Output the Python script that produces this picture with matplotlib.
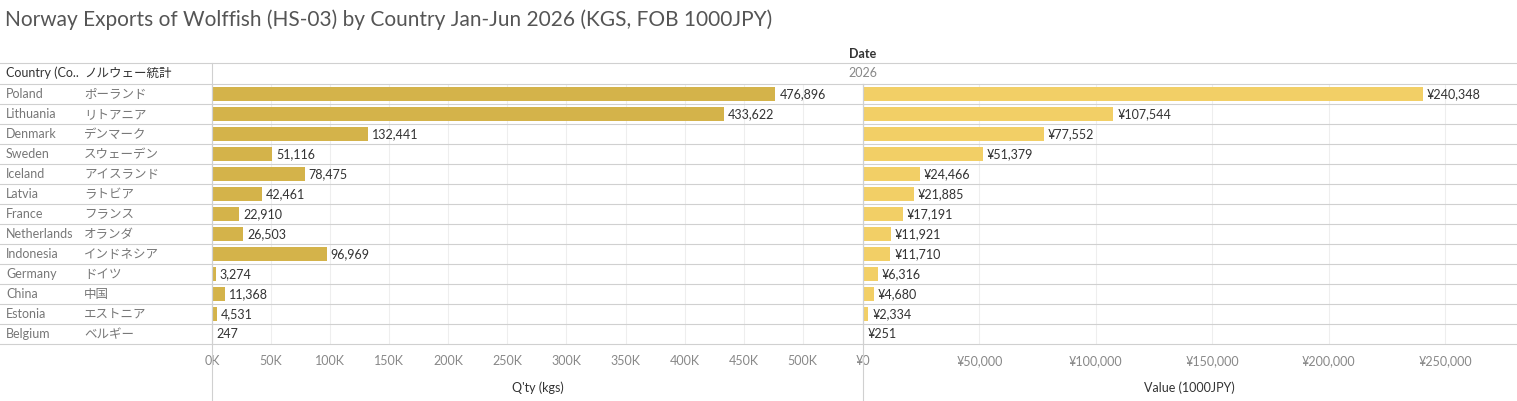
import matplotlib.pyplot as plt
from matplotlib.ticker import FuncFormatter

plt.rcParams['font.family'] = ['Lato', 'Noto Sans CJK JP', 'DejaVu Sans']

countries = ['Poland', 'Lithuania', 'Denmark', 'Sweden', 'Iceland', 'Latvia', 'France',
             'Netherlands', 'Indonesia', 'Germany', 'China', 'Estonia', 'Belgium']
countries_jp = ['ポーランド', 'リトアニア', 'デンマーク', 'スウェーデン', 'アイスランド', 'ラトビア',
                'フランス', 'オランダ', 'インドネシア', 'ドイツ', '中国', 'エストニア', 'ベルギー']
qty = [476896, 433622, 132441, 51116, 78475, 42461, 22910, 26503, 96969, 3274, 11368, 4531, 247]
value = [240348, 107544, 77552, 51379, 24466, 21885, 17191, 11921, 11710, 6316, 4680, 2334, 251]

W, H = 1517, 401
fig = plt.figure(figsize=(W / 100, H / 100), dpi=100)

def px_axes(x0, y0, x1, y1):
    return fig.add_axes([x0 / W, 1 - y1 / H, (x1 - x0) / W, (y1 - y0) / H])

top, bottom = 84, 344
n = len(countries)
grid_col = '#d0d0d0'

# label column
lab = px_axes(0, top, 212, bottom)
lab.set_xlim(0, 212)
lab.set_ylim(n, 0)
lab.axis('off')
for i, (c, j) in enumerate(zip(countries, countries_jp)):
    lab.text(6, i + 0.5, c, va='center', fontsize=9, color='#777777')
    lab.text(84, i + 0.5, j, va='center', fontsize=9, color='#777777')

fig.text(6 / W, 1 - 73 / H, 'Country (Co..', fontsize=9, color='#333333', va='center')
fig.text(84 / W, 1 - 73 / H, 'ノルウェー統計', fontsize=9, color='#333333', va='center')
fig.text(863 / W, 1 - 54 / H, 'Date', fontsize=9, color='#333333', va='center', ha='center', fontweight='bold')
fig.text(863 / W, 1 - 73 / H, '2026', fontsize=9, color='#888888', va='center', ha='center')
fig.text(5 / W, 1 - 20 / H, 'Norway Exports of Wolffish (HS-03) by Country Jan-Jun 2026 (KGS, FOB 1000JPY)',
         fontsize=15, color='#555555', va='center')

def panel(x0, x1, data, xmax, color, fmt, xlabel, ticks):
    ax = px_axes(x0, top, x1, bottom)
    ax.barh(range(n), data, height=0.72, color=color, align='center')
    ax.set_ylim(n - 0.5, -0.5)
    ax.set_xlim(0, xmax)
    ax.set_xticks(ticks)
    ax.xaxis.set_major_formatter(FuncFormatter(lambda v, p: fmt(v)))
    ax.tick_params(axis='x', length=0, labelsize=9, colors='#888888', pad=8)
    ax.set_yticks([])
    for t in ticks:
        ax.axvline(t, color='#eeeeee', lw=0.8, zorder=0)
    for s in ['top', 'right', 'bottom']:
        ax.spines[s].set_visible(False)
    ax.spines['left'].set_color(grid_col)
    for i, v in enumerate(data):
        ax.text(v + xmax * 0.006, i, fmt_label(v, fmt), va='center', fontsize=9, color='#333333')
    ax.set_xlabel(xlabel, fontsize=9, color='#333333', labelpad=10)
    return ax

def fmt_label(v, fmt):
    return fmt.label(v)

class Fmt:
    def __init__(self, tick, label):
        self.tick, self.label = tick, label
    def __call__(self, v):
        return self.tick(v)

kfmt = Fmt(lambda v: f'{int(v / 1000)}K', lambda v: f'{v:,}')
yfmt = Fmt(lambda v: f'¥{int(v):,}', lambda v: f'¥{v:,}')

panel(212, 863, qty, 551000, '#d4b34a', kfmt, "Q'ty (kgs)", list(range(0, 500001, 50000)))
panel(863, 1515, value, 280000, '#f2cf66', yfmt, 'Value (1000JPY)', list(range(0, 250001, 50000)))

# row separator lines across the full width
line_ax = fig.add_axes([0, 0, 1, 1], facecolor='none')
line_ax.set_xlim(0, W)
line_ax.set_ylim(H, 0)
line_ax.axis('off')
for k in range(n + 1):
    y = top + k * (bottom - top) / n
    line_ax.plot([0, W], [y, y], color=grid_col, lw=0.8)
line_ax.plot([0, W], [63, 63], color=grid_col, lw=0.8)
line_ax.plot([212, 212], [63, H], color=grid_col, lw=0.8)
line_ax.plot([863, 863], [84, H], color=grid_col, lw=0.8)

fig.savefig('out.png', dpi=100)
